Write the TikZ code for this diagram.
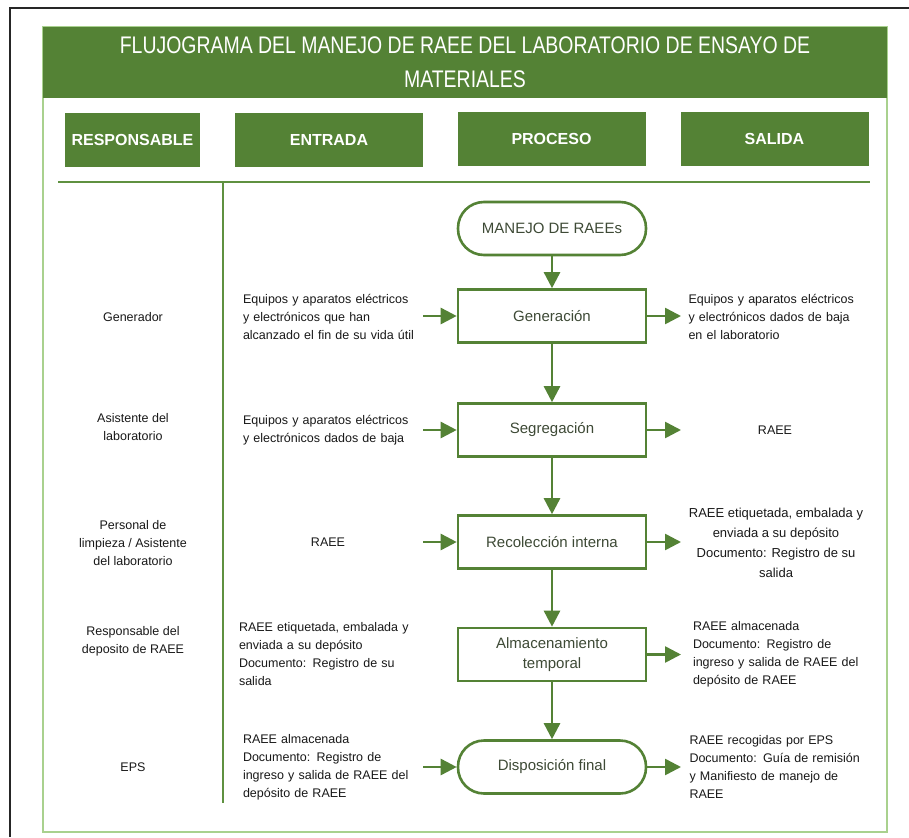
\documentclass[tikz,border=0pt]{standalone}
\usepackage{fontspec}
\setmainfont{Liberation Sans}
\newfontfamily\titlefont[FakeStretch=0.81]{Liberation Sans}
\usepackage{tikz}
\usetikzlibrary{
  arrows.meta,
  calc,
  positioning
}
\definecolor{raeegreen}{HTML}{548235}
\definecolor{panelgreen}{HTML}{A9D18E}
\definecolor{sepgreen}{HTML}{5F9140}
\definecolor{boxtext}{HTML}{3E4A36}
\newlength{\colw}
\setlength{\colw}{174pt}
\newcommand{\fullline}[1]{\makebox[\colw][s]{#1}}

\begin{document}
\begin{tikzpicture}[
  x=1pt, y=-1pt,
  titlebar/.style={rectangle, fill=raeegreen, text=white, minimum width=844pt, minimum height=71pt, inner sep=0pt, align=center, font=\titlefont\fontsize{24}{34}\selectfont},
  header/.style={rectangle, fill=raeegreen, text=white, minimum height=54pt, inner sep=0pt, font=\fontsize{16}{18}\selectfont\bfseries},
  proc/.style={rectangle, draw=raeegreen, line width=2.6pt, minimum width=188pt, minimum height=53pt, fill=white, text=boxtext, align=center, font=\fontsize{15}{20}\selectfont},
  term/.style={proc, rounded corners=26pt},
  who/.style={inner sep=0pt, align=center, text=black!90, font=\fontsize{12.5}{18}\selectfont},
  io/.style={inner sep=0pt, text width=\colw, align=left, text=black!90, font=\fontsize{12.5}{18}\selectfont},
  sepline/.style={sepgreen, line width=1.6pt},
  arrow/.style={-{Triangle[length=16pt, width=16pt]}, line width=2.6pt, raeegreen},
]
\fill[white] (0,0) rectangle (909,837);
\useasboundingbox (0,0) rectangle (909,837);

% Frame and panel
\draw[black!85, line width=2pt] (10,837) |- (909,8);
\draw[panelgreen, line width=1.5pt] (43,27) rectangle (887,832);
\node[titlebar] (title) at (465,62.5) {FLUJOGRAMA DEL MANEJO DE RAEE DEL LABORATORIO DE ENSAYO DE\\MATERIALES};

% Column headers
\node[header, minimum width=135pt] (hresp) at (132.5,140) {RESPONSABLE};
\node[header, minimum width=188pt] (hin) at (329,140) {ENTRADA};
\node[header, minimum width=188pt] (hproc) at (551.5,139) {PROCESO};
\node[header, minimum width=188pt] (hout) at (774.5,139) {SALIDA};

\draw[sepline] (58,182) -- (870,182);
\draw[sepline] (223,182) -- (223,803);

% Process
\node[term] (start) at (552,228.5) {MANEJO DE RAEEs};
\node[proc] (gen) at (552,316) {Generación};
\node[proc] (seg) at (552,430) {Segregación};
\node[proc] (rec) at (552,542) {Recolección interna};
\node[proc] (alm) at (552,654.5) {Almacenamiento\\temporal};
\node[term] (disp) at (552,767) {Disposición final};

% Responsables
\node[who] (r1) at (133,317) {Generador};
\node[who] (r2) at (133,427) {Asistente del\\laboratorio};
\node[who] (r3) at (133,543) {Personal de\\limpieza / Asistente\\del laboratorio};
\node[who] (r4) at (133,641) {Responsable del\\deposito de RAEE};
\node[who] (r5) at (133,767) {EPS};

% Entradas
\node[io] (in1) at (330,317) {\fullline{Equipos y aparatos eléctricos}\\\fullline{y electrónicos que han}\\alcanzado el fin de su vida útil};
\node[io] (in2) at (330,430) {\fullline{Equipos y aparatos eléctricos}\\y electrónicos dados de baja};
\node[who] (in3) at (328,542) {RAEE};
\node[io] (in4) at (326,654.5) {\fullline{RAEE etiquetada, embalada y}\\enviada a su depósito\\\fullline{Documento: Registro de su}\\salida};
\node[io] (in5) at (330,767) {RAEE almacenada\\\fullline{Documento: Registro de}\\\fullline{ingreso y salida de RAEE del}\\depósito de RAEE};

% Salidas
\node[io] (out1) at (775.5,317) {\fullline{Equipos y aparatos eléctricos}\\\fullline{y electrónicos dados de baja}\\en el laboratorio};
\node[who] (out2) at (775,430) {RAEE};
\node[who, font=\fontsize{13}{20}\selectfont] (out3) at (776,543) {RAEE etiquetada, embalada y\\enviada a su depósito\\Documento: Registro de su\\salida};
\node[io] (out4) at (780,654.5) {RAEE almacenada\\\fullline{Documento: Registro de}\\\fullline{ingreso y salida de RAEE del}\\depósito de RAEE};
\node[io] (out5) at (776.5,767) {RAEE recogidas por EPS\\\fullline{Documento: Guía de remisión}\\\fullline{y Manifiesto de manejo de}\\RAEE};

\coordinate (inx) at (423,0);
\coordinate (outx) at (681,0);

% Vertical arrows
\draw[arrow] (start) -- (gen);
\draw[arrow] (gen) -- (seg);
\draw[arrow] (seg) -- (rec);
\draw[arrow] (rec) -- (alm);
\draw[arrow] (alm) -- (disp);

% Inputs
\draw[arrow] (gen.west -| inx) -- (gen.west);
\draw[arrow] (seg.west -| inx) -- (seg.west);
\draw[arrow] (rec.west -| inx) -- (rec.west);
\draw[arrow] (disp.west -| inx) -- (disp.west);

% Outputs
\draw[arrow] (gen.east) -- (gen.east -| outx);
\draw[arrow] (seg.east) -- (seg.east -| outx);
\draw[arrow] (rec.east) -- (rec.east -| outx);
\draw[arrow] (alm.east) -- (alm.east -| outx);
\draw[arrow] (disp.east) -- (disp.east -| outx);
\end{tikzpicture}
\end{document}
